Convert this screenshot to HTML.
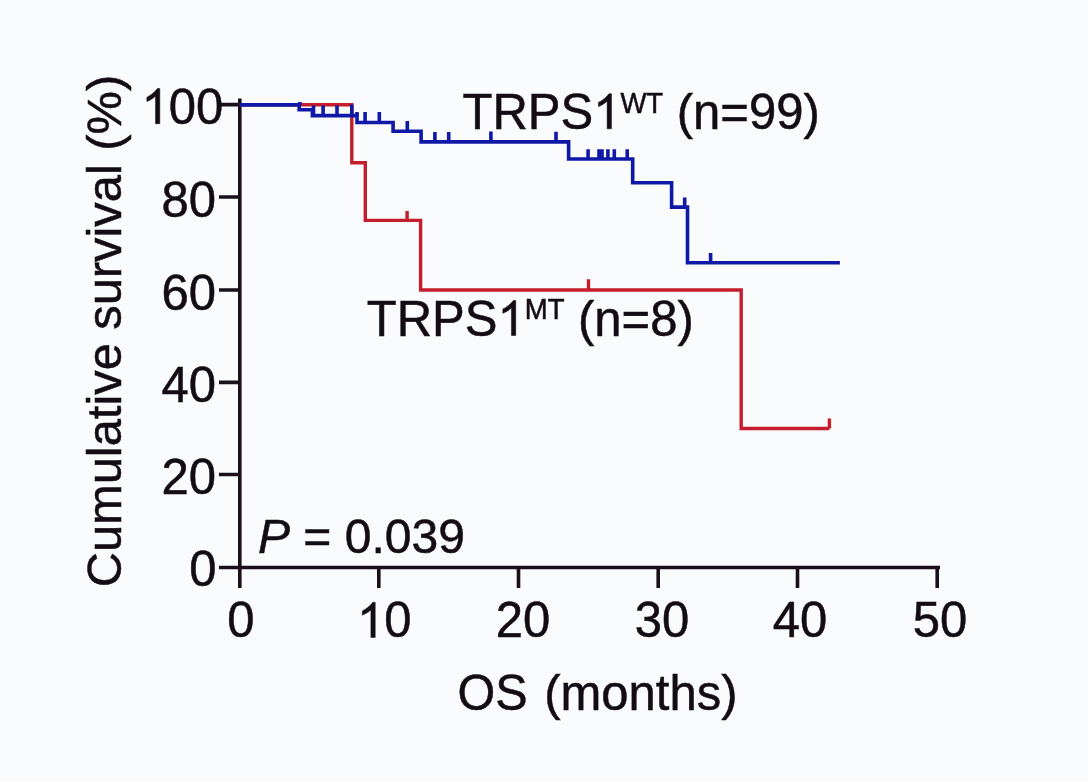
<!DOCTYPE html>
<html><head><meta charset="utf-8">
<style>
html,body{margin:0;padding:0;background:#f9fbfc;}
body{width:1088px;height:782px;overflow:hidden;}
svg{display:block;will-change:transform;}
text{font-family:"Liberation Sans",sans-serif;fill:#140c14;stroke:#140c14;stroke-width:0.5;}
</style></head>
<body>
<svg width="1088" height="782" viewBox="0 0 1088 782">
<rect x="0" y="0" width="1088" height="782" fill="#f9fbfc"/>
<g stroke="#1a0f1a" stroke-width="3.6" fill="none" stroke-linecap="butt">
<path d="M239.8 98.5 V588"/>
<path d="M219 567.5 H940"/>
<path d="M219 104.6 H239.7 M219 197 H239.7 M219 290 H239.7 M219 382.4 H239.7 M219 474.5 H239.7"/>
<path d="M378.8 567.5 V588 M518.5 567.5 V588 M658.2 567.5 V588 M797.5 567.5 V588 M937.2 567.5 V588"/>
</g>
<path transform="translate(141.55 123.7) scale(0.02393 -0.02393)" d="M763 0L583 0L583 1150C520 1090 440 1035 350 985C300 958 255 940 223 930L223 1105C330 1155 430 1225 510 1300C580 1365 630 1420 660 1466L763 1466Z" fill="#140c14" stroke="#140c14" stroke-width="20.9"/>
<text transform="translate(168.80 123.7) scale(1 1.03)" font-size="49" >00</text>
<text transform="translate(161.50 216.6) scale(1 1.03)" font-size="49" >80</text>
<text transform="translate(161.50 309.6) scale(1 1.03)" font-size="49" >60</text>
<text transform="translate(161.50 402) scale(1 1.03)" font-size="49" >40</text>
<text transform="translate(161.50 494.1) scale(1 1.03)" font-size="49" >20</text>
<text transform="translate(189.25 586.3) scale(1 1.03)" font-size="49" >0</text>
<text transform="translate(227.37 637.4) scale(1 1.03)" font-size="49" >0</text>
<path transform="translate(356.95 637.4) scale(0.02393 -0.02393)" d="M763 0L583 0L583 1150C520 1090 440 1035 350 985C300 958 255 940 223 930L223 1105C330 1155 430 1225 510 1300C580 1365 630 1420 660 1466L763 1466Z" fill="#140c14" stroke="#140c14" stroke-width="20.9"/>
<text transform="translate(384.20 637.4) scale(1 1.03)" font-size="49" >0</text>
<text transform="translate(495.75 637.4) scale(1 1.03)" font-size="49" >20</text>
<text transform="translate(634.75 637.4) scale(1 1.03)" font-size="49" >30</text>
<text transform="translate(772.75 637.4) scale(1 1.03)" font-size="49" >40</text>
<text transform="translate(912.75 637.4) scale(1 1.03)" font-size="49" >50</text>
<text transform="translate(457.50 709.5) scale(1 1.03)" font-size="48.5" >OS</text>
<text transform="translate(544.20 709.5) scale(1 1.03)" font-size="49" >(months)</text>
<text transform="translate(121 331.05) rotate(-90)" font-size="48.8" text-anchor="middle">Cumulative survival (%)</text>
<text transform="translate(462.50 128.8) scale(1 1.03)" font-size="49" >TRPS</text>
<path transform="translate(593.18 128.8) scale(0.02393 -0.02393)" d="M763 0L583 0L583 1150C520 1090 440 1035 350 985C300 958 255 940 223 930L223 1105C330 1155 430 1225 510 1300C580 1365 630 1420 660 1466L763 1466Z" fill="#140c14" stroke="#140c14" stroke-width="20.9"/>
<text transform="translate(620.43 112.60000000000001) scale(1 1.09)" font-size="27.5">WT</text>
<text transform="translate(663.19 128.8) scale(1 1.03)" font-size="49" >&#160;(n=99)</text>
<text transform="translate(366.80 335.5) scale(1 1.03)" font-size="49" >TRPS</text>
<path transform="translate(497.48 335.5) scale(0.02393 -0.02393)" d="M763 0L583 0L583 1150C520 1090 440 1035 350 985C300 958 255 940 223 930L223 1105C330 1155 430 1225 510 1300C580 1365 630 1420 660 1466L763 1466Z" fill="#140c14" stroke="#140c14" stroke-width="20.9"/>
<text transform="translate(524.73 319.3) scale(1 1.09)" font-size="27.5">MT</text>
<text transform="translate(564.44 335.5) scale(1 1.03)" font-size="49" >&#160;(n=8)</text>
<text transform="translate(258 552.7)" font-size="48"><tspan font-style="italic">P</tspan>&#160;=&#160;0.039</text>
<g stroke="#c41e2c" stroke-width="3.4" fill="none">
<path d="M239.7 104.7 H351.8 V162.8 H365.3 V220.4 H420.6 V290 H741.2 V428.5 H829.4"/>
<path d="M407.1 220.4 V211 M588.5 290 V279.2 M829.4 428.5 V418.5"/>
</g>
<g stroke="#1018a8" stroke-width="3.6" fill="none">
<path d="M239.7 104.9 H299.2 V109.7 H312.4 V115.6 H357 V122.5 H393.1 V131.2 H421.1 V141.9 H568.6 V159 H632.7 V182.8 H671.6 V207.1 H687.5 V262.8 H839.9"/>
<path d="M299.9 104.9 V102 M313.5 115.6 V105.5 M323.1 115.6 V105.5 M337 115.6 V105.5 M351.8 115.6 V104.5 M357 115.6 V112 M365.1 122.5 V111.9 M379.3 122.5 V111.9 M407.3 131.2 V121 M434.9 141.9 V132.1 M448.7 141.9 V132.1 M490.9 141.9 V131.5 M556 141.9 V131.8 M588.1 159 V149.3 M599 159 V149.3 M602 159 V149.3 M607.9 159 V149.3 M614.3 159 V149.3 M627.2 159 V149.3 M684.7 207.1 V197.5 M710.6 262.8 V253.1"/>
</g>
</svg>
</body></html>
